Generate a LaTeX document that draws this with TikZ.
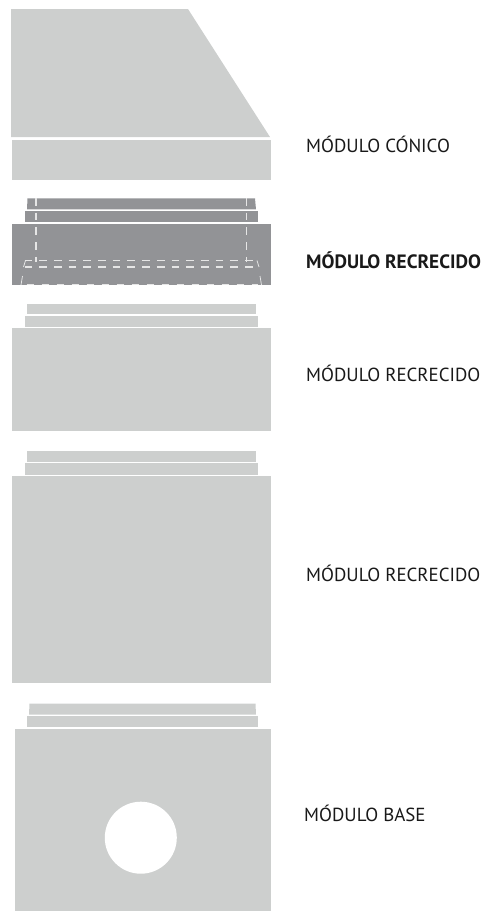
\documentclass[tikz,border=0pt]{standalone}
\usepackage{fontspec}
\setmainfont{PT Sans}
\definecolor{modgrey}{HTML}{CDCFCE}
\definecolor{moddark}{HTML}{929396}
\definecolor{dashgrey}{HTML}{E6E6E6}
\tikzset{
  x=1pt,y=-1pt,
  lightpart/.style={fill=modgrey,draw=none},
  darkpart/.style={fill=moddark,draw=none},
  dashline/.style={draw=dashgrey,line width=1.1pt,dash pattern=on 7.7pt off 7pt},
  solidedge/.style={draw=dashgrey,line width=.8pt},
  modlabel/.style={anchor=base west,inner sep=0pt,font=\fontsize{18.9}{22}\selectfont,text=black!90},
}
\begin{document}
\begin{tikzpicture}
\useasboundingbox (0,0) rectangle (485,911);
% conical module
\fill[lightpart] (11,9) -- (188,9) -- (270,137) -- (11,137) -- cycle;
\fill[lightpart] (12,139.5) rectangle (271,180);
% highlighted module
\fill[darkpart] (27.5,198.3) -- (255,198.3) -- (256,209.3) -- (27,209.3) -- cycle;
\fill[darkpart] (24.5,211) rectangle (258,222);
\fill[darkpart] (12,223.7) rectangle (271,285);
\draw[dashline] (36,198) -- (36,262);
\draw[dashline] (246.5,198) -- (246.5,262);
\draw[dashline] (24.5,260.5) -- (257,260.5);
\draw[dashline] (24.5,267) -- (259,267);
\draw[solidedge] (25.5,260.5) -- (23.5,267);
\draw[solidedge] (257,260.5) -- (259,267);
\draw[solidedge] (22.5,276) -- (21,285);
\draw[solidedge] (260,276) -- (261.5,285);
\draw[dashgrey,line width=1.6pt,dash pattern=on 7pt off 8pt] (26.5,284.4) -- (258,284.4);
% second module
\fill[lightpart] (27,303.5) rectangle (256,314);
\fill[lightpart] (24.5,315.5) rectangle (258,326.5);
\fill[lightpart] (12,328) rectangle (271,431);
% third module
\fill[lightpart] (27,451) rectangle (256,461.7);
\fill[lightpart] (24.5,463) rectangle (258,474.5);
\fill[lightpart] (12,475.5) rectangle (271,683);
% base module
\fill[lightpart] (29.5,703.7) -- (255.5,703.7) -- (256,714.5) -- (29,714.5) -- cycle;
\fill[lightpart] (27,716) rectangle (258,727);
\fill[lightpart] (15,729) rectangle (270.5,911);
\fill[white] (140.8,837.7) circle[radius=36];
% labels
\node[modlabel] (lcon) at (306,152.3) {MÓDULO CÓNICO};
\node[modlabel,font=\fontsize{19.3}{22}\selectfont\bfseries] (lrec) at (306,268.3) {MÓDULO RECRECIDO};
\node[modlabel] (lreca) at (306,381.7) {MÓDULO RECRECIDO};
\node[modlabel] (lrecb) at (306,581.7) {MÓDULO RECRECIDO};
\node[modlabel] (lbase) at (304,821.7) {MÓDULO BASE};
\end{tikzpicture}
\end{document}
